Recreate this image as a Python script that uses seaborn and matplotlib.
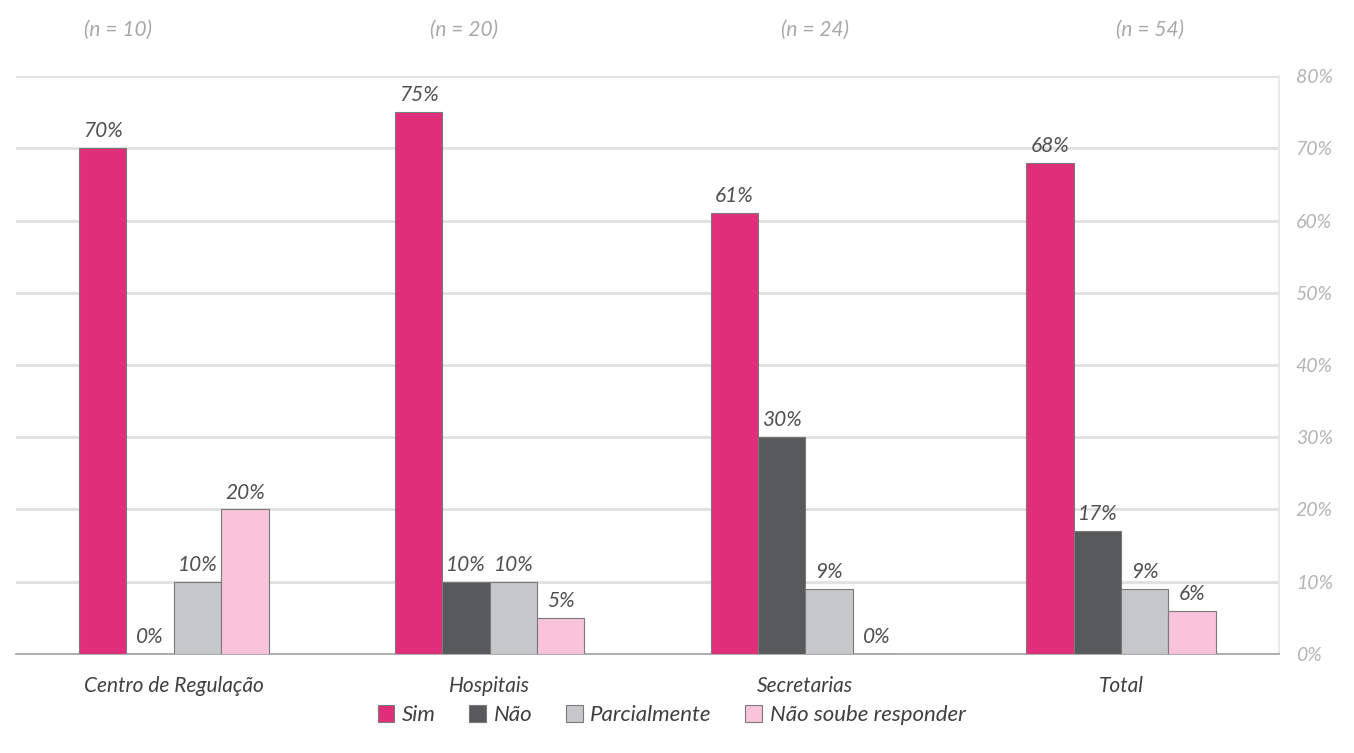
import matplotlib
matplotlib.use("Agg")
import matplotlib.pyplot as plt
import seaborn as sns
import pandas as pd
from matplotlib.patches import Patch

categories = ["Centro de Regulação", "Hospitais", "Secretarias", "Total"]
n_labels = ["(n = 10)", "(n = 20)", "(n = 24)", "(n = 54)"]
series = ["Sim", "Não", "Parcialmente", "Não soube responder"]
sim = [70, 75, 61, 68]
nao = [0, 10, 30, 17]
parcial = [10, 10, 9, 9]
nao_soube = [20, 5, 0, 6]
yticks = [0, 10, 20, 30, 40, 50, 60, 70, 80]

colors = ["#E12E7B", "#58595B", "#C6C7C9", "#F9C3DA"]

rows = []
for s, vals in zip(series, [sim, nao, parcial, nao_soube]):
    for c, v in zip(categories, vals):
        rows.append({"cat": c, "serie": s, "val": v})
df = pd.DataFrame(rows)

sns.set_theme(style="white")
plt.rcParams["font.family"] = ["Lato", "DejaVu Sans"]

fig = plt.figure(figsize=(13.54, 7.53), dpi=100)
ax = fig.add_axes([0.0118, 0.1315, 0.9328, 0.7675])

sns.barplot(data=df, x="cat", y="val", hue="serie", order=categories,
            hue_order=series, palette=colors, saturation=1, width=0.6, ax=ax,
            edgecolor="#7a7a7a", linewidth=0.8, legend=False, zorder=3)

ax.set_ylim(0, 80)
ax.set_xlim(-0.5, 3.5)
for t in yticks[1:]:
    ax.axhline(t, color="#e2e2e2", lw=2.2, zorder=1)
ax.yaxis.tick_right()
ax.set_yticks(yticks)
ax.set_yticklabels([f"{t}%" for t in yticks], fontstyle="italic",
                   color="#b5b5b5", fontsize=14)
ax.tick_params(axis="y", length=0, pad=12)
ax.tick_params(axis="x", length=0, pad=16)
ax.set_xticks(range(4))
ax.set_xticklabels(categories, fontstyle="italic", color="#404040", fontsize=15)
ax.set_xlabel("")
ax.set_ylabel("")
for sp in ["top", "left"]:
    ax.spines[sp].set_visible(False)
ax.spines["bottom"].set_color("#a0a0a0")
ax.spines["bottom"].set_linewidth(1.2)
ax.spines["right"].set_color("#e6e6e6")
ax.spines["right"].set_linewidth(1.2)

for cont in ax.containers:
    ax.bar_label(cont, labels=[f"{v:.0f}%" for v in cont.datavalues],
                 padding=5, fontstyle="italic", color="#505050", fontsize=15)

n_x = [0.087, 0.343, 0.602, 0.849]
for xpos, lab in zip(n_x, n_labels):
    fig.text(xpos, 0.96, lab, ha="center", va="center", fontstyle="italic",
             color="#a8a8a8", fontsize=15)

handles = [Patch(facecolor=c, edgecolor="#7a7a7a", linewidth=0.8) for c in colors]
fig.legend(handles, series, loc="center", bbox_to_anchor=(0.496, 0.05), ncol=4,
           frameon=False, prop={"style": "italic", "size": 16},
           handlelength=0.75, handleheight=0.75, handletextpad=0.35, columnspacing=1.5,
           labelcolor="#404040")

fig.savefig("out.png", dpi=100)
